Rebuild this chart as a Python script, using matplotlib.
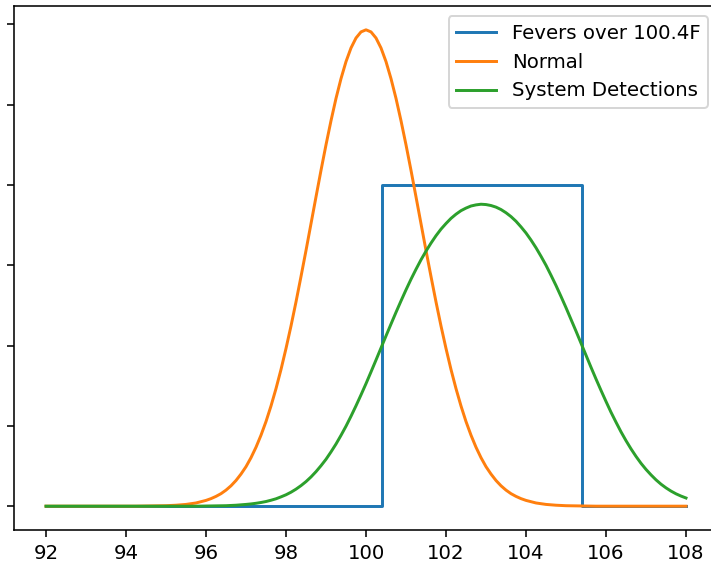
import matplotlib
matplotlib.use("Agg")
import matplotlib.pyplot as plt

# temperature grid (F), every quarter degree
temps = [92.00, 92.25, 92.50, 92.75, 93.00, 93.25, 93.50, 93.75,
         94.00, 94.25, 94.50, 94.75, 95.00, 95.25, 95.50, 95.75,
         96.00, 96.25, 96.50, 96.75, 97.00, 97.25, 97.50, 97.75,
         98.00, 98.25, 98.50, 98.75, 99.00, 99.25, 99.50, 99.75,
         100.00, 100.25, 100.50, 100.75, 101.00, 101.25, 101.50, 101.75,
         102.00, 102.25, 102.50, 102.75, 103.00, 103.25, 103.50, 103.75,
         104.00, 104.25, 104.50, 104.75, 105.00, 105.25, 105.50, 105.75,
         106.00, 106.25, 106.50, 106.75, 107.00, 107.25, 107.50, 107.75,
         108.00]

normal = [0.0, 0.0, 0.0, 0.0, 0.0, 0.0, 0.0, 0.0,
          0.0, 0.0, 0.0001, 0.0002, 0.0003, 0.0006, 0.0011, 0.0020,
          0.0036, 0.0061, 0.0100, 0.0160, 0.0246, 0.0367, 0.0527, 0.0732,
          0.0982, 0.1272, 0.1592, 0.1926, 0.2250, 0.2539, 0.2768, 0.2915,
          0.2966, 0.2915, 0.2768, 0.2539, 0.2250, 0.1926, 0.1592, 0.1272,
          0.0982, 0.0732, 0.0527, 0.0367, 0.0246, 0.0160, 0.0100, 0.0061,
          0.0036, 0.0020, 0.0011, 0.0006, 0.0003, 0.0002, 0.0001, 0.0,
          0.0, 0.0, 0.0, 0.0, 0.0, 0.0, 0.0, 0.0,
          0.0]

detections = [0.0, 0.0, 0.0, 0.0, 0.0, 0.0, 0.0, 0.0,
              0.0, 0.0, 0.0, 0.0, 0.0, 0.0, 0.0, 0.0,
              0.0001, 0.0002, 0.0003, 0.0006, 0.0011, 0.0018, 0.0029, 0.0046,
              0.0071, 0.0106, 0.0153, 0.0215, 0.0292, 0.0387, 0.0498, 0.0625,
              0.0763, 0.0910, 0.1060, 0.1207, 0.1347, 0.1475, 0.1588, 0.1684,
              0.1760, 0.1818, 0.1856, 0.1876, 0.1878, 0.1862, 0.1827, 0.1774,
              0.1701, 0.1609, 0.1500, 0.1374, 0.1236, 0.1090, 0.0940, 0.0792,
              0.0652, 0.0523, 0.0408, 0.0310, 0.0229, 0.0164, 0.0114, 0.0077,
              0.0051]

# extra readings between grid points where the curves bend most
normal_mid_x = [96.125, 96.375, 96.625, 96.875, 97.125, 97.375, 97.625, 97.875,
                98.125, 98.375, 98.625, 98.875, 99.125, 99.375, 99.625, 99.875,
                100.125, 100.375, 100.625, 100.875, 101.125, 101.375, 101.625, 101.875,
                102.125, 102.375, 102.625, 102.875, 103.125, 103.375, 103.625, 103.875]
normal_mid = [0.0047, 0.0078, 0.0127, 0.0200, 0.0302, 0.0442, 0.0624, 0.0851,
              0.1122, 0.1430, 0.1759, 0.2091, 0.2400, 0.2662, 0.2853, 0.2953,
              0.2953, 0.2853, 0.2662, 0.2400, 0.2091, 0.1759, 0.1430, 0.1122,
              0.0851, 0.0624, 0.0442, 0.0302, 0.0200, 0.0127, 0.0078, 0.0047]

detect_mid_x = [97.125, 97.375, 97.625, 97.875, 98.125, 98.375, 98.625, 98.875,
                99.125, 99.375, 99.625, 99.875, 100.125, 100.375, 100.625, 100.875,
                101.125, 101.375, 101.625, 101.875, 102.125, 102.375, 102.625, 102.875,
                103.125, 103.375, 103.625, 103.875, 104.125, 104.375, 104.625, 104.875,
                105.125, 105.375, 105.625, 105.875, 106.125, 106.375, 106.625, 106.875,
                107.125, 107.375, 107.625, 107.875]
detect_mid = [0.0014, 0.0023, 0.0037, 0.0058, 0.0087, 0.0128, 0.0182, 0.0252,
              0.0338, 0.0441, 0.0560, 0.0693, 0.0836, 0.0985, 0.1134, 0.1278,
              0.1413, 0.1534, 0.1638, 0.1725, 0.1792, 0.1840, 0.1869, 0.1880,
              0.1872, 0.1847, 0.1803, 0.1739, 0.1657, 0.1556, 0.1438, 0.1306,
              0.1163, 0.1015, 0.0865, 0.0721, 0.0585, 0.0463, 0.0357, 0.0267,
              0.0195, 0.0137, 0.0094, 0.0063]

# fevers: flat band between 100.4 and 105.4
fever_x = [92.0, 100.4, 100.4, 105.4, 105.4, 108.0]
fever_y = [0.0, 0.0, 0.2, 0.2, 0.0, 0.0]

labels = ["Fevers over 100.4F", "Normal", "System Detections"]


def merged(xs, ys, xs2, ys2):
    pts = sorted(zip(xs + xs2, ys + ys2))
    return [p[0] for p in pts], [p[1] for p in pts]


normal_x, normal_y = merged(temps, normal, normal_mid_x, normal_mid)
detect_x, detect_y = merged(temps, detections, detect_mid_x, detect_mid)

fig = plt.figure(figsize=(711 / 142, 562 / 142), dpi=142)
# the original was cropped, so the axes run past the right edge
ax = fig.add_axes([14 / 711, 32 / 562, 704 / 711, 524 / 562])

ax.plot(fever_x, fever_y, label=labels[0])
ax.plot(normal_x, normal_y, label=labels[1])
ax.plot(detect_x, detect_y, label=labels[2])

ax.set_xticks([92, 94, 96, 98, 100, 102, 104, 106, 108])
ax.set_yticks([0.0, 0.05, 0.10, 0.15, 0.20, 0.25, 0.30])
ax.legend(loc="upper right")

fig.savefig("out.png", dpi=142)
